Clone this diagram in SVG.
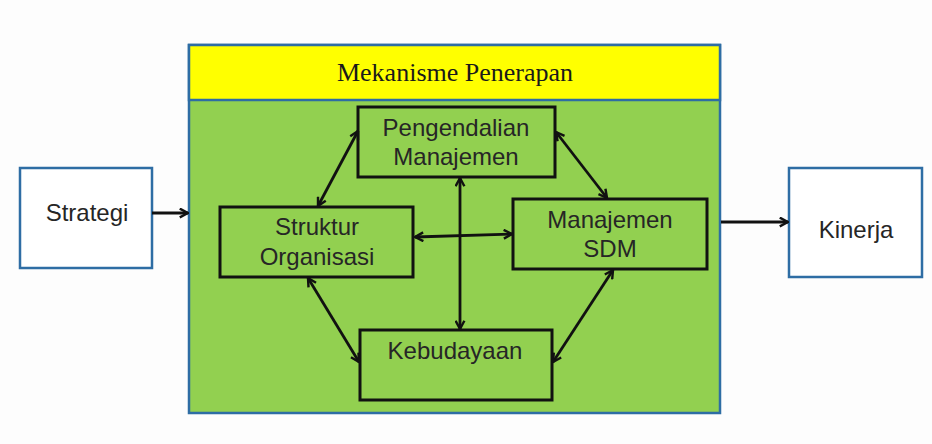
<svg xmlns="http://www.w3.org/2000/svg" width="932" height="444" viewBox="0 0 932 444">
  <defs>
    <marker id="head" viewBox="0 0 10 10" refX="9" refY="5" markerWidth="11" markerHeight="11" markerUnits="userSpaceOnUse" orient="auto-start-reverse">
      <path d="M1.5,1 L9,5 L1.5,9" fill="none" stroke="#111" stroke-width="2.2" stroke-linejoin="round"/>
    </marker>
    <style>
      .frame { fill: #ffffff; stroke: #2e6da4; stroke-width: 2.5; }
      .inner { fill: #92d050; stroke: #111; stroke-width: 3; }
      .lbl { font-family: "Liberation Sans", Arial, sans-serif; font-size: 24px; fill: #262626; text-anchor: middle; }
      .ttl { font-family: "Liberation Serif", "Times New Roman", serif; font-size: 26px; fill: #1a1a1a; text-anchor: middle; }
      .conn { stroke: #111; stroke-width: 2.8; fill: none; marker-end: url(#head); }
      .both { marker-start: url(#head); }
    </style>
  </defs>
  <rect width="932" height="444" fill="#fdfdfd"/>

  <!-- container with its yellow title band -->
  <g id="mekanisme">
    <rect x="189" y="45" width="531" height="368" fill="#92d050" stroke="#2e6da4" stroke-width="2.5"/>
    <rect x="189" y="45" width="531" height="55" fill="#ffff00" stroke="#2e6da4" stroke-width="2.5"/>
    <text class="ttl" x="455" y="81">Mekanisme Penerapan</text>
  </g>

  <g id="strategi">
    <rect class="frame" x="20" y="168" width="132" height="100"/>
    <text class="lbl" x="87" y="221">Strategi</text>
  </g>

  <g id="kinerja">
    <rect class="frame" x="789" y="168" width="133" height="109"/>
    <text class="lbl" x="856" y="238">Kinerja</text>
  </g>

  <g id="pengendalian">
    <rect class="inner" x="358" y="107" width="197" height="70"/>
    <text class="lbl" x="456" y="136">Pengendalian</text>
    <text class="lbl" x="456" y="165">Manajemen</text>
  </g>

  <g id="struktur">
    <rect class="inner" x="220" y="207" width="193" height="70"/>
    <text class="lbl" x="317" y="235">Struktur</text>
    <text class="lbl" x="317" y="265">Organisasi</text>
  </g>

  <g id="sdm">
    <rect class="inner" x="513" y="199" width="194" height="70"/>
    <text class="lbl" x="610" y="228">Manajemen</text>
    <text class="lbl" x="610" y="257">SDM</text>
  </g>

  <g id="kebudayaan">
    <rect class="inner" x="360" y="330" width="192" height="70"/>
    <text class="lbl" x="455" y="359">Kebudayaan</text>
  </g>

  <g id="connectors">
    <line class="conn" x1="152" y1="213" x2="188" y2="213"/>
    <line class="conn" x1="721" y1="222" x2="788" y2="222"/>
    <line class="conn both" x1="358" y1="131" x2="318" y2="206"/>
    <line class="conn both" x1="556" y1="132" x2="607" y2="198"/>
    <line class="conn both" x1="415" y1="237" x2="512" y2="234"/>
    <line class="conn both" x1="460" y1="178" x2="460" y2="329"/>
    <line class="conn both" x1="613" y1="270" x2="553" y2="362"/>
    <line class="conn both" x1="308" y1="278" x2="359" y2="362"/>
  </g>
</svg>
